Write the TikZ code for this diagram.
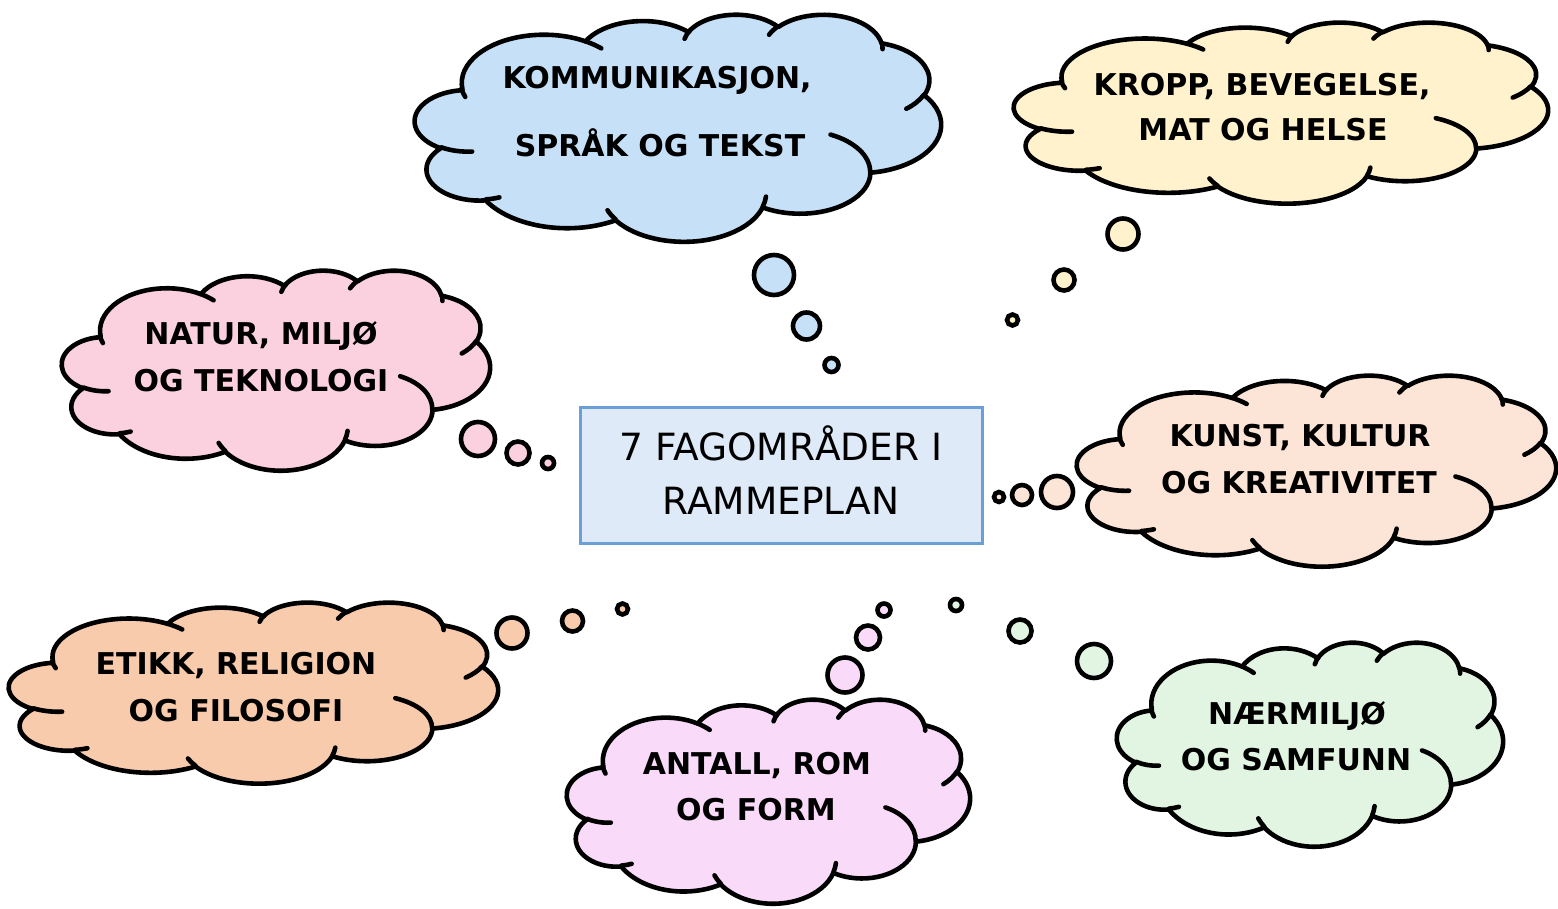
\documentclass[tikz,border=0pt]{standalone}
\usepackage{fontspec}
\newfontfamily\cloudfont{DejaVu Sans}
\definecolor{blueC}{HTML}{C6E0F8}
\definecolor{yellowC}{HTML}{FFF2CC}
\definecolor{pinkC}{HTML}{FBD0DF}
\definecolor{peachC}{HTML}{FCE4D6}
\definecolor{orangeC}{HTML}{F8CBAD}
\definecolor{purpleC}{HTML}{FADAF9}
\definecolor{greenC}{HTML}{E2F5E2}
\definecolor{boxfill}{HTML}{DEEAF7}
\definecolor{boxline}{HTML}{6A9FD8}
% ---- Office-style cloud outline, unit box 432 x 432 (y down) ----
\gdef\cloudoutline{(39.00,143.70)}
\gdef\cloudstubs{}
\newcommand\addarc[4]{%
  \pgfmathsetmacro\tmpS{atan2((#1)*sin(#3),(#2)*cos(#3))}%
  \pgfmathsetmacro\tmpE{atan2((#1)*sin(#3+#4),(#2)*cos(#3+#4))}%
  \pgfmathsetmacro\tmpD{Mod(\tmpE-\tmpS,360)}%
  \xdef\cloudoutline{\cloudoutline arc[start angle=\tmpS, delta angle=\tmpD, x radius=#1, y radius=#2]}%
}
\newcommand\addstub[6]{%
  \pgfmathsetmacro\tmpS{atan2((#3)*sin(#5),(#4)*cos(#5))}%
  \pgfmathsetmacro\tmpE{atan2((#3)*sin(#5+#6),(#4)*cos(#5+#6))}%
  \pgfmathsetmacro\tmpD{Mod(\tmpE-\tmpS,360)}%
  \xdef\cloudstubs{\cloudstubs (#1,#2) arc[start angle=\tmpS, delta angle=\tmpD, x radius=#3, y radius=#4]}%
}
\addarc{67.53}{91.90}{-190.4875}{123.7805}
\addarc{53.33}{72.67}{-144.1024}{89.9452}
\addarc{43.65}{59.45}{-145.8079}{99.7230}
\addarc{48.57}{65.95}{-130.9861}{117.2417}
\addarc{53.33}{72.73}{-78.7089}{109.0269}
\addarc{67.75}{92.20}{-46.2673}{130.2690}
\addarc{57.85}{78.67}{0.6250}{114.0333}
\addarc{67.52}{92.15}{22.4516}{115.1726}
\addarc{77.20}{105.43}{66.2426}{75.7110}
\addarc{43.60}{59.18}{-274.9421}{146.7356}
\addarc{43.45}{59.45}{-246.8285}{152.5189}
\addstub{46.93}{261.77}{43.45}{59.45}{86.7420}{26.4295}
\addstub{69.28}{348.99}{43.60}{59.18}{73.6105}{11.4475}
\addstub{164.78}{390.90}{67.52}{92.15}{137.6242}{14.0811}
\addstub{288.27}{347.51}{67.52}{92.15}{6.4533}{15.9984}
\addstub{341.29}{229.54}{57.85}{78.67}{-70.2924}{70.9174}
\addstub{417.98}{153.54}{53.33}{72.73}{30.3180}{27.7515}
\addstub{383.24}{54.26}{48.57}{65.95}{-13.7443}{14.8589}
\addstub{290.78}{39.52}{48.57}{65.95}{-149.1815}{18.1954}
\addstub{221.41}{47.20}{43.65}{59.45}{-163.4943}{20.5945}
\addstub{140.00}{51.92}{67.53}{91.90}{-66.7070}{12.3194}
\addstub{41.27}{157.89}{67.53}{91.90}{153.6811}{13.2202}
\newcommand\drawcloud[5]{%
  \begin{scope}[shift={(#1,#2)}, xscale=#3/432, yscale=#4/432]
    \draw[cloudline, fill=#5] \cloudoutline -- cycle;
    \draw[cloudline] \cloudstubs;
  \end{scope}}
\begin{document}
\begin{tikzpicture}[x=1pt, y=-1pt,
  cloudline/.style={line width=4.6pt, line join=round, line cap=round},
  bub/.style={circle, draw, line width=4.6pt, inner sep=0pt, outer sep=0pt},
  ctext/.style={font=\cloudfont\bfseries\fontsize{30}{36}\selectfont, text height=21.9pt, text depth=0pt, inner sep=0pt},
  btext/.style={font=\cloudfont\fontsize{37.5}{45}\selectfont, text height=27.3pt, text depth=0pt, inner sep=0pt}]
\useasboundingbox[fill=white] (0,0) rectangle (1558,908);
% clouds
\drawcloud{415}{14}{526}{227}{blueC}
\drawcloud{1014}{22}{534}{181}{yellowC}
\drawcloud{62}{270}{428}{200}{pinkC}
\drawcloud{1077}{375}{479}{191}{peachC}
\drawcloud{9}{602}{489}{181}{orangeC}
\drawcloud{567}{699}{403}{204}{purpleC}
\drawcloud{1117}{642}{386}{204}{greenC}
% bubbles
\node[bub, fill=blueC, minimum size=40pt] (b1) at (774,275) {};
\node[bub, fill=blueC, minimum size=27pt] (b2) at (806.5,326) {};
\node[bub, fill=blueC, minimum size=14pt] (b3) at (831.5,365) {};
\node[bub, fill=yellowC, minimum size=31pt] (y1) at (1123,234) {};
\node[bub, fill=yellowC, minimum size=21pt] (y2) at (1064,280) {};
\node[bub, fill=yellowC, minimum size=11pt] (y3) at (1012.5,320) {};
\node[bub, fill=pinkC, minimum size=34pt] (p1) at (478,439) {};
\node[bub, fill=pinkC, minimum size=23pt] (p2) at (518,453) {};
\node[bub, fill=pinkC, minimum size=12pt] (p3) at (548,463) {};
\node[bub, fill=peachC, minimum size=32pt] (k1) at (1057,492) {};
\node[bub, fill=peachC, minimum size=20pt] (k2) at (1022,495) {};
\node[bub, fill=peachC, minimum size=10pt] (k3) at (999,497) {};
\node[bub, fill=orangeC, minimum size=31pt] (o1) at (512,633) {};
\node[bub, fill=orangeC, minimum size=21pt] (o2) at (572.5,621) {};
\node[bub, fill=orangeC, minimum size=11pt] (o3) at (622.5,609) {};
\node[bub, fill=purpleC, minimum size=35pt] (v1) at (845,675) {};
\node[bub, fill=purpleC, minimum size=24pt] (v2) at (868,637.5) {};
\node[bub, fill=purpleC, minimum size=13pt] (v3) at (884,610) {};
\node[bub, fill=greenC, minimum size=34pt] (g1) at (1094,661) {};
\node[bub, fill=greenC, minimum size=23pt] (g2) at (1020,631) {};
\node[bub, fill=greenC, minimum size=12pt] (g3) at (956,605) {};
% centre box
\node[draw=boxline, fill=boxfill, line width=2.2pt, minimum width=402pt, minimum height=136pt, inner sep=0pt] (centre) at (781.5,475.5) {};
\node[btext] (c1) at (781,447) {7 FAGOMRÅDER I};
\node[btext] (c2) at (781,501) {RAMMEPLAN};
% texts
\node[ctext] (t1a) at (657,78) {KOMMUNIKASJON,};
\node[ctext] (t1b) at (660,146) {SPRÅK OG TEKST};
\node[ctext] (t2a) at (1262,85) {KROPP, BEVEGELSE,};
\node[ctext] (t2b) at (1263,130) {MAT OG HELSE};
\node[ctext] (t3a) at (261,334) {NATUR, MILJØ};
\node[ctext] (t3b) at (261,381) {OG TEKNOLOGI};
\node[ctext] (t4a) at (1300,436) {KUNST, KULTUR};
\node[ctext] (t4b) at (1299,483) {OG KREATIVITET};
\node[ctext] (t5a) at (236,664) {ETIKK, RELIGION};
\node[ctext] (t5b) at (236,711) {OG FILOSOFI};
\node[ctext] (t6a) at (757,764) {ANTALL, ROM};
\node[ctext] (t6b) at (756,810) {OG FORM};
\node[ctext] (t7a) at (1297,714) {NÆRMILJØ};
\node[ctext] (t7b) at (1296,760) {OG SAMFUNN};
\end{tikzpicture}
\end{document}
